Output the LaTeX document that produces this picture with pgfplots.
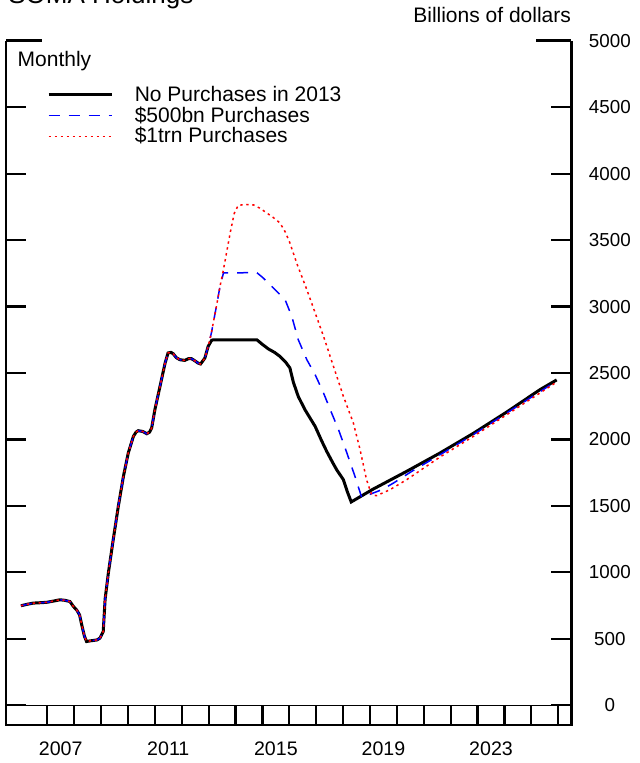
\documentclass[border=0pt]{standalone}
\usepackage{fontspec}
\setmainfont{Liberation Sans}
\usepackage{pgfplots}
\pgfplotsset{compat=1.18}
\begin{document}
\begin{tikzpicture}
\begin{axis}[
  name=ax,
  scale only axis,
  width=282.65pt, height=342.15pt,
  xmin=2005.4644, xmax=2026.4834,
  ymin=-148, ymax=5000,
  clip=false,
  axis line style={draw=none},
  xtick={2007,...,2026},
  x tick label as interval,
  xticklabels={2007,,,,2011,,,,2015,,,,2019,,,,2023,,},
  xtick pos=bottom,
  ytick={0,500,...,5000},
  yticklabels={0,500,1000,1500,2000,2500,3000,3500,4000,4500,5000},
  scaled y ticks=false,
  ytick pos=both,
  yticklabel pos=right,
  tick align=inside,
  major tick length=10pt,
  tick style={black, line width=1.1pt},
  /pgf/number format/assume math mode=true,
  xticklabel style={font=\fontsize{9.8}{11}\selectfont, anchor=base, yshift=-15pt},
  yticklabel style={font=\fontsize{9.4}{11}\selectfont, anchor=center, xshift=19.25pt},
  legend cell align=left,
  legend image code/.code={\draw[#1] (0pt,0pt) -- (31.5pt,0pt);},
  legend style={at={(axis description cs:0,1)}, anchor=north west,
    xshift=20.35pt, yshift=-22.65pt, draw=none, fill=none, inner sep=0pt,
    row sep=2.1pt, column sep=0pt,
    font=\fontsize{10.5}{12}\selectfont,
    nodes={inner sep=0pt, inner xsep=10.85pt, text height=7.5pt, text depth=0.8pt}},
]
\addplot[black, line width=1.5pt] coordinates {
(2006.02,749) (2006.25,760) (2006.48,769) (2006.75,772) (2006.98,775)
(2007.25,785) (2007.47,794) (2007.65,790) (2007.84,781) (2007.97,744)
(2008.10,715) (2008.20,680) (2008.28,606) (2008.38,520) (2008.46,480)
(2008.60,485) (2008.71,488) (2008.85,492) (2008.96,506) (2009.08,556)
(2009.15,800) (2009.27,995) (2009.45,1245) (2009.64,1496) (2009.83,1722)
(2010.01,1898) (2010.20,2023) (2010.30,2055) (2010.38,2066) (2010.55,2060)
(2010.70,2043) (2010.80,2055) (2010.88,2086) (2011.00,2224) (2011.19,2399)
(2011.38,2575) (2011.49,2651) (2011.60,2655) (2011.68,2645) (2011.80,2615)
(2011.93,2600) (2012.11,2595) (2012.25,2608) (2012.36,2608) (2012.50,2590)
(2012.60,2575) (2012.70,2568) (2012.86,2613) (2012.98,2700) (2013.11,2746)
(2013.17,2750) (2014.79,2750) (2015.00,2715) (2015.22,2681) (2015.45,2655)
(2015.65,2625) (2015.85,2585) (2016.02,2538) (2016.15,2430) (2016.33,2324)
(2016.58,2224) (2016.96,2098) (2017.20,1990) (2017.39,1910) (2017.60,1830)
(2017.76,1772) (2018.01,1697) (2018.15,1610) (2018.30,1530) (2019.12,1627)
(2020.36,1760) (2021.60,1898) (2022.84,2046) (2024.08,2206) (2025.32,2375)
(2025.94,2448)
};
\addlegendentry{No Purchases in 2013}
\addplot[blue, line width=0.75pt, dash pattern=on 5.5pt off 4.5pt] coordinates {
(2006.02,749) (2006.25,760) (2006.48,769) (2006.75,772) (2006.98,775)
(2007.25,785) (2007.47,794) (2007.65,790) (2007.84,781) (2007.97,744)
(2008.10,715) (2008.20,680) (2008.28,606) (2008.38,520) (2008.46,480)
(2008.60,485) (2008.71,488) (2008.85,492) (2008.96,506) (2009.08,556)
(2009.15,800) (2009.27,995) (2009.45,1245) (2009.64,1496) (2009.83,1722)
(2010.01,1898) (2010.20,2023) (2010.30,2055) (2010.38,2066) (2010.55,2060)
(2010.70,2043) (2010.80,2055) (2010.88,2086) (2011.00,2224) (2011.19,2399)
(2011.38,2575) (2011.49,2651) (2011.60,2655) (2011.68,2645) (2011.80,2615)
(2011.93,2600) (2012.11,2595) (2012.25,2608) (2012.36,2608) (2012.50,2590)
(2012.60,2575) (2012.70,2568) (2012.86,2613) (2012.98,2700) (2013.10,2800)
(2013.17,2876) (2013.30,3014) (2013.42,3150) (2013.55,3253) (2014.79,3255)
(2015.00,3220) (2015.28,3165) (2015.55,3110) (2015.84,3052) (2016.09,2926)
(2016.33,2751) (2016.65,2600) (2016.96,2487) (2017.27,2350) (2017.52,2224)
(2017.83,2073) (2018.14,1898) (2018.44,1722) (2018.69,1564) (2019.00,1588)
(2019.44,1622) (2019.87,1672) (2020.55,1760) (2021.60,1885) (2022.84,2036)
(2024.08,2199) (2025.94,2440)
};
\addlegendentry{\$500bn Purchases}
\addplot[red, line width=0.75pt, dash pattern=on 1.2pt off 1.8pt] coordinates {
(2006.02,749) (2006.25,760) (2006.48,769) (2006.75,772) (2006.98,775)
(2007.25,785) (2007.47,794) (2007.65,790) (2007.84,781) (2007.97,744)
(2008.10,715) (2008.20,680) (2008.28,606) (2008.38,520) (2008.46,480)
(2008.60,485) (2008.71,488) (2008.85,492) (2008.96,506) (2009.08,556)
(2009.15,800) (2009.27,995) (2009.45,1245) (2009.64,1496) (2009.83,1722)
(2010.01,1898) (2010.20,2023) (2010.30,2055) (2010.38,2066) (2010.55,2060)
(2010.70,2043) (2010.80,2055) (2010.88,2086) (2011.00,2224) (2011.19,2399)
(2011.38,2575) (2011.49,2651) (2011.60,2655) (2011.68,2645) (2011.80,2615)
(2011.93,2600) (2012.11,2595) (2012.25,2608) (2012.36,2608) (2012.50,2590)
(2012.60,2575) (2012.70,2568) (2012.86,2613) (2012.98,2700) (2013.10,2800)
(2013.17,2876) (2013.30,3014) (2013.42,3150) (2013.55,3278) (2013.80,3554)
(2013.95,3700) (2014.10,3762) (2014.40,3767) (2014.66,3765) (2014.90,3740)
(2015.16,3704) (2015.40,3670) (2015.65,3629) (2015.85,3560) (2016.02,3479)
(2016.27,3328) (2016.65,3127) (2016.96,2952) (2017.27,2776) (2017.64,2550)
(2018.01,2324) (2018.38,2124) (2018.63,1923) (2018.87,1697) (2019.06,1584)
(2019.24,1577) (2019.74,1622) (2020.36,1697) (2021.60,1868) (2022.84,2023)
(2024.08,2186) (2025.94,2432)
};
\addlegendentry{\$1trn Purchases}
\draw[black, line width=0.5pt] (axis cs:2005.4644,0) -- (axis cs:2026.4834,0);
\end{axis}
\draw[black, line width=1.3pt] (ax.north west) -- (ax.south west) -- (ax.south east) -- (ax.north east);
\draw[black, line width=1.3pt] (ax.north west) -- ++(17.85pt,0pt);
\draw[black, line width=1.3pt] (ax.north east) -- ++(-17.5pt,0pt);
\node[anchor=base west, inner sep=0pt, font=\fontsize{10.5}{12}\selectfont] at ([xshift=5.65pt, yshift=-13pt]ax.north west) {Monthly};
\node[anchor=base east, inner sep=0pt, font=\fontsize{10.5}{12}\selectfont] at ([yshift=9pt]ax.north east) {Billions of dollars};
\node[anchor=base west, inner sep=0pt, font=\fontsize{13}{15}\selectfont] at ([xshift=1pt, yshift=18.6pt]ax.north west) {SOMA Holdings};
\pgfresetboundingbox
\path[use as bounding box] ([xshift=-3pt, yshift=-19pt]ax.south west) rectangle ([xshift=316.5pt, yshift=362.5pt]ax.south west);
\end{tikzpicture}
\end{document}
